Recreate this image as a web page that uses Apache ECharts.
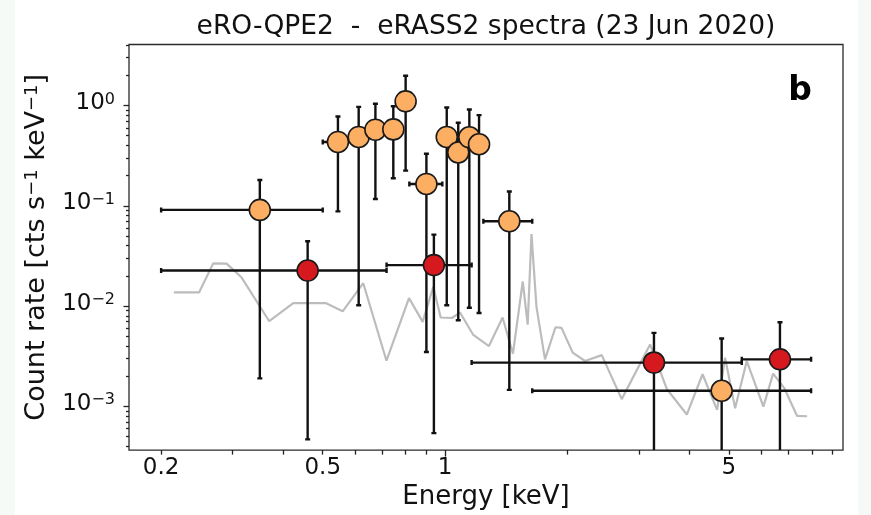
<!DOCTYPE html>
<html>
<head>
<meta charset="utf-8">
<script src="https://cdn.jsdelivr.net/npm/echarts@6/dist/echarts.min.js"></script>
<style>
  html, body { margin: 0; padding: 0; background: #f6faf7; }
  #chart {
    width: 871px; height: 515px;
    background: linear-gradient(to right, #f6faf7 15px, #ffffff 15px, #ffffff 858px, #f6faf7 858px);
  }
</style>
</head>
<body>
<div id="chart"></div>
<script>
// eRASS2 source spectrum, bright bins (orange)
const hiEnergy   = [0.35, 0.545, 0.613, 0.674, 0.746, 0.80, 0.90, 1.01, 1.078, 1.148, 1.213, 1.44, 4.80];
const hiEnergyLo = [0.20, 0.50, 0.59, 0.65, 0.72, 0.77, 0.817, 0.975, 1.04, 1.11, 1.17, 1.243, 1.64];
const hiEnergyHi = [0.50, 0.59, 0.637, 0.70, 0.77, 0.83, 0.985, 1.045, 1.11, 1.18, 1.25, 1.64, 7.97];
const hiRate     = [0.091, 0.433, 0.486, 0.574, 0.578, 1.10, 0.165, 0.486, 0.340, 0.482, 0.411, 0.070, 0.00143];
const hiRateLo   = [0.0019, 0.088, 0.0102, 0.117, 0.188, 0.224, 0.00348, 0.0102, 0.00722, 0.00963, 0.00853, 0.00146, 0.0001];
const hiRateHi   = [0.181, 0.778, 0.970, 1.04, 0.985, 1.98, 0.330, 0.955, 0.674, 0.913, 0.802, 0.139, 0.00474];

// eRASS2 source spectrum, quiescent bins (red)
const loEnergy   = [0.459, 0.939, 3.27, 6.68];
const loEnergyLo = [0.20, 0.718, 1.163, 5.38];
const loEnergyHi = [0.718, 1.163, 5.38, 7.97];
const loRate     = [0.0226, 0.0256, 0.00273, 0.00294];
const loRateLo   = [0.000468, 0.00054, 0.0001, 0.0001];
const loRateHi   = [0.0443, 0.0516, 0.0054, 0.0069];

// background spectrum (grey)
const bkgEnergy = [0.215, 0.248, 0.2687, 0.290, 0.3157, 0.3692, 0.4230, 0.5083, 0.5598, 0.6291,
  0.7177, 0.8154, 0.8813, 0.9358, 0.9759, 1.0405, 1.089, 1.172, 1.283, 1.386,
  1.470, 1.554, 1.598, 1.633, 1.680, 1.763, 1.871, 1.936, 2.063, 2.212,
  2.432, 2.724, 3.199, 3.517, 3.939, 4.307, 4.677, 4.894, 5.18, 5.535,
  6.081, 6.426, 6.839, 7.362, 7.793];
const bkgRate = [0.01367, 0.01367, 0.02666, 0.0265, 0.01924, 0.00706, 0.01071, 0.01071, 0.00886, 0.0169,
  0.00285, 0.0120, 0.00695, 0.0156, 0.00769, 0.0076, 0.00862, 0.0052, 0.00399, 0.00769,
  0.00335, 0.01757, 0.00653, 0.0522, 0.00977, 0.00294, 0.00615, 0.00606, 0.00343, 0.00283,
  0.00324, 0.00118, 0.00414, 0.00149, 0.000828, 0.00209, 0.000923, 0.00306, 0.000955, 0.00283,
  0.000993, 0.00212, 0.00153, 0.000802, 0.000796];

// axis ticks
const xLabelValues = [0.2, 0.5, 1, 5];
const xMajorTicks = [1];
const xMinorTicks = [0.2, 0.3, 0.4, 0.5, 0.6, 0.7, 0.8, 0.9, 2, 3, 4, 5, 6, 7, 8, 9];
const yMajorTicks = [0.001, 0.01, 0.1, 1];
const yMinorTicks = [];
for (let d = -4; d <= 0; d++) for (let m = 2; m <= 9; m++) yMinorTicks.push(+(m * Math.pow(10, d)).toPrecision(3));

const X_MIN = 0.1667, X_MAX = 9.55, Y_MIN = 3.66e-4, Y_MAX = 4.06;
const FONT = 'DejaVu Sans';
const INK = '#111111';

const zip = (...cols) => cols[0].map((_, i) => cols.map(c => c[i]));
const hiData = zip(hiEnergy, hiRate, hiEnergyLo, hiEnergyHi, hiRateLo, hiRateHi);
const loData = zip(loEnergy, loRate, loEnergyLo, loEnergyHi, loRateLo, loRateHi);
const bkgData = zip(bkgEnergy, bkgRate);

// x and y error bars with small caps at every end
function renderErrorBar(params, api) {
  const x = api.value(0), y = api.value(1);
  const c = api.coord([x, y]);
  const l = api.coord([api.value(2), y]);
  const r = api.coord([api.value(3), y]);
  const b = api.coord([x, api.value(4)]);
  const t = api.coord([x, api.value(5)]);
  const cap = 2.5;
  const seg = (x1, y1, x2, y2) => ({
    type: 'line', shape: { x1, y1, x2, y2 },
    style: { stroke: INK, lineWidth: 2.4 }
  });
  return {
    type: 'group',
    children: [
      seg(l[0], c[1], r[0], c[1]),
      seg(c[0], b[1], c[0], t[1]),
      seg(l[0], c[1] - cap, l[0], c[1] + cap),
      seg(r[0], c[1] - cap, r[0], c[1] + cap),
      seg(c[0] - cap, t[1], c[0] + cap, t[1]),
      seg(c[0] - cap, b[1], c[0] + cap, b[1])
    ]
  };
}

const supRich = {
  b: { fontSize: 23, fontFamily: FONT, color: INK, lineHeight: 28, verticalAlign: 'top' },
  s: { fontSize: 16, fontFamily: FONT, color: INK, lineHeight: 16, verticalAlign: 'top' }
};
const nameRich = {
  n: { fontSize: 27, fontFamily: FONT, color: INK, lineHeight: 32, verticalAlign: 'top' },
  s: { fontSize: 18, fontFamily: FONT, color: INK, lineHeight: 18, verticalAlign: 'top' }
};

const tickStyle = { color: '#222', width: 1.3 };
const hiddenLabel = { show: false };

const chart = echarts.init(document.getElementById('chart'), null, { renderer: 'canvas' });
chart.setOption({
  animation: false,
  grid: { left: 129, right: 28, top: 44.5, bottom: 62, show: true, borderColor: '#2a2a2a', borderWidth: 1.3, backgroundColor: 'transparent' },
  graphic: [
    { type: 'text', x: 486, y: 27, z: 10,
      style: { text: 'eRO-QPE2  -  eRASS2 spectra (23 Jun 2020)', fontSize: 26.5, fontFamily: FONT, fill: INK,
               align: 'center', textAlign: 'center', verticalAlign: 'middle', textVerticalAlign: 'middle' } },
    { type: 'text', x: 800, y: 91, z: 10,
      style: { text: 'b', fontSize: 33, fontWeight: 'bold', fontFamily: FONT, fill: '#000',
               align: 'center', textAlign: 'center', verticalAlign: 'middle', textVerticalAlign: 'middle' } }
  ],
  xAxis: [
    { type: 'log', logBase: 10, min: X_MIN, max: X_MAX, position: 'bottom',
      axisLine: { show: false }, splitLine: { show: false },
      axisTick: { show: true, inside: false, length: 6.5, lineStyle: tickStyle, customValues: xMajorTicks },
      axisLabel: { customValues: xLabelValues, formatter: v => String(+(+v).toPrecision(3)),
                   fontSize: 23, fontFamily: FONT, color: INK, margin: 6 },
      name: 'Energy [keV]', nameLocation: 'middle', nameGap: 32,
      nameTextStyle: { fontSize: 26, fontFamily: FONT, color: INK } },
    { type: 'log', logBase: 10, min: X_MIN, max: X_MAX, position: 'bottom',
      axisLine: { show: false }, splitLine: { show: false },
      axisTick: { show: true, inside: false, length: 4.5, lineStyle: tickStyle, customValues: xMinorTicks },
      axisLabel: hiddenLabel }
  ],
  yAxis: [
    { type: 'log', logBase: 10, min: Y_MIN, max: Y_MAX, position: 'left',
      axisLine: { show: false }, splitLine: { show: false },
      axisTick: { show: true, inside: false, length: 5.5, lineStyle: tickStyle, customValues: yMajorTicks },
      axisLabel: { customValues: yMajorTicks, margin: 14,
                   formatter: v => { const e = Math.round(Math.log10(v)); return '{b|10}{s|' + (e < 0 ? '\u2212' : '') + Math.abs(e) + '}'; },
                   rich: supRich },
      name: '{n|Count rate [cts s}{s|\u22121}{n| keV}{s|\u22121}{n|]}', nameLocation: 'middle', nameGap: 74,
      nameTextStyle: { rich: nameRich } },
    { type: 'log', logBase: 10, min: Y_MIN, max: Y_MAX, position: 'left',
      axisLine: { show: false }, splitLine: { show: false },
      axisTick: { show: true, inside: false, length: 3, lineStyle: tickStyle, customValues: yMinorTicks },
      axisLabel: hiddenLabel }
  ],
  series: [
    { type: 'line', name: 'background', data: bkgData, xAxisIndex: 0, yAxisIndex: 0,
      showSymbol: false, symbol: 'none', z: 1,
      lineStyle: { color: '#bcbcbc', width: 2.2 } },
    { type: 'custom', name: 'bright errors', data: hiData, renderItem: renderErrorBar, clip: true,
      encode: { x: 0, y: 1 }, z: 2 },
    { type: 'scatter', name: 'bright', data: hiData, symbolSize: 21, z: 3, clip: false,
      encode: { x: 0, y: 1 },
      itemStyle: { color: '#fcae62', borderColor: '#1a1a1a', borderWidth: 1.6, opacity: 1 } },
    { type: 'custom', name: 'quiescent errors', data: loData, renderItem: renderErrorBar, clip: true,
      encode: { x: 0, y: 1 }, z: 4 },
    { type: 'scatter', name: 'quiescent', data: loData, symbolSize: 21, z: 5, clip: false,
      encode: { x: 0, y: 1 },
      itemStyle: { color: '#d6191e', borderColor: '#1a1a1a', borderWidth: 1.6, opacity: 1 } }
  ]
});
</script>
</body>
</html>
